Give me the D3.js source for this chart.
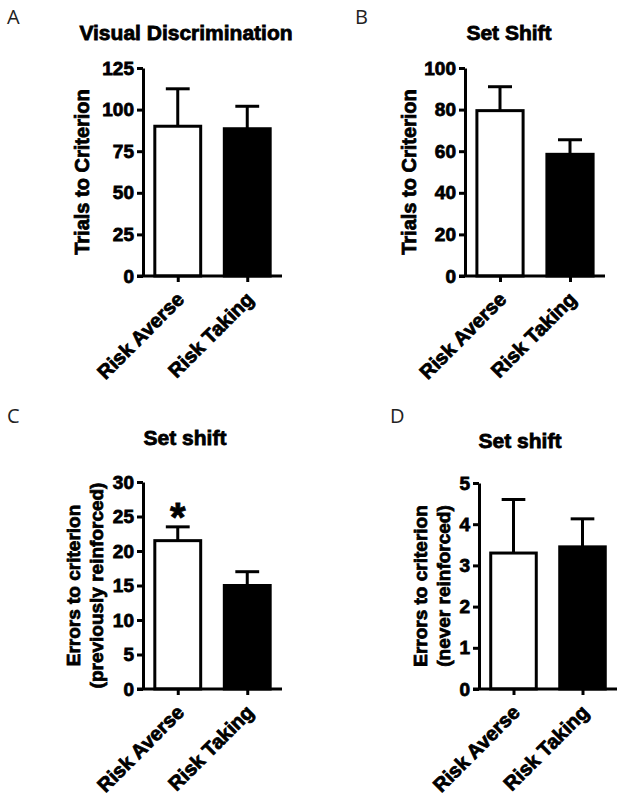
<!DOCTYPE html>
<html><head><meta charset="utf-8">
<script src="https://cdn.jsdelivr.net/npm/d3@7"></script>
<style>
body{margin:0;background:#fff;}
svg{display:block;}
.t{font-family:"Liberation Sans",Arial,sans-serif;font-weight:bold;fill:#000;stroke:#000;stroke-width:0.8px;}
.lt{font-family:"Open Sans","Liberation Sans",Arial,sans-serif;font-weight:normal;fill:#222;}
</style></head>
<body>
<script>
// ---- data ----
const categories = ["Risk Averse", "Risk Taking"];
const barFill = ["#fff", "#000"];

const panelLetters = ["A", "B", "C", "D"];
const titles = ["Visual Discrimination", "Set Shift", "Set shift", "Set shift"];
const yLabels = [
  ["Trials to Criterion"],
  ["Trials to Criterion"],
  ["Errors to criterion", "(previously reinforced)"],
  ["Errors to criterion", "(never reinforced)"]
];
const meansA = [90, 88.5];
const semA = [22.5, 13.5];
const meansB = [79.5, 58.5];
const semB = [11.5, 7];
const meansC = [21.5, 15];
const semC = [2, 2];
const meansD = [3.3, 3.45];
const semD = [1.3, 0.68];
const ticksA = [0, 25, 50, 75, 100, 125];
const ticksB = [0, 20, 40, 60, 80, 100];
const ticksC = [0, 5, 10, 15, 20, 25, 30];
const ticksD = [0, 1, 2, 3, 4, 5];
const significance = [[], [], ["*", ""], []];

// ---- layout ----
const W = 624, H = 801;
const svg = d3.select("body").append("svg").attr("width", W).attr("height", H);

const layouts = [
  {x0:143, x1:282, yTop:68, yBot:276, letter:[7,24], title:[186,40], ylab:[82], means:meansA, sem:semA, ticks:ticksA},
  {x0:465, x1:605, yTop:68, yBot:276, letter:[355,24], title:[509,40], ylab:[409], means:meansB, sem:semB, ticks:ticksB},
  {x0:143, x1:282, yTop:482, yBot:689, letter:[7,423], title:[185,445], ylab:[73,96], means:meansC, sem:semC, ticks:ticksC},
  {x0:479, x1:617, yTop:483, yBot:689, letter:[390,423], title:[520,448], ylab:[420,443], means:meansD, sem:semD, ticks:ticksD}
];

layouts.forEach((L, i) => {
  const g = svg.append("g");
  const y = d3.scaleLinear().domain([0, d3.max(L.ticks)]).range([L.yBot, L.yTop]);
  const x = d3.scalePoint().domain(categories).range([L.x0, L.x1]).padding(0.5);
  const bw = x.step() * 0.66;
  const capW = bw * 0.52;

  g.append("text").attr("class", "lt").attr("x", L.letter[0]).attr("y", L.letter[1])
    .style("font-size", "20px").text(panelLetters[i]);
  g.append("text").attr("class", "t").attr("x", L.title[0]).attr("y", L.title[1])
    .attr("text-anchor", "middle").style("font-size", "21px").text(titles[i]);

  categories.forEach((c, k) => {
    const cx = x(c);
    g.append("line").attr("x1", cx).attr("x2", cx)
      .attr("y1", y(L.means[k])).attr("y2", y(L.means[k] + L.sem[k]))
      .attr("stroke", "#000").attr("stroke-width", 3);
    g.append("line").attr("x1", cx - capW/2).attr("x2", cx + capW/2)
      .attr("y1", y(L.means[k] + L.sem[k])).attr("y2", y(L.means[k] + L.sem[k]))
      .attr("stroke", "#000").attr("stroke-width", 3);
    g.append("rect").attr("x", cx - bw/2).attr("width", bw)
      .attr("y", y(L.means[k])).attr("height", y(0) - y(L.means[k]))
      .attr("fill", barFill[k]).attr("stroke", "#000").attr("stroke-width", 3);
    const s = significance[i][k];
    if (s) {
      g.append("text").attr("class", "t").attr("x", cx).attr("y", y(L.means[k] + L.sem[k]) + 4)
        .attr("text-anchor", "middle").style("font-size", "40px").text(s);
    }
  });

  const ya = g.append("g").attr("transform", `translate(${L.x0},0)`)
    .call(d3.axisLeft(y).tickValues(L.ticks).tickFormat(d3.format("d"))
      .tickSize(6).tickSizeOuter(0).tickPadding(3));
  ya.select(".domain").attr("stroke-width", 3);
  ya.selectAll(".tick line").attr("stroke-width", 3);
  ya.selectAll(".tick text").attr("class", "t").style("font-size", "19px").attr("font-family", null);

  const xa = g.append("g").attr("transform", `translate(0,${L.yBot})`)
    .call(d3.axisBottom(x).tickSize(6).tickSizeOuter(0).tickFormat(""));
  xa.select(".domain").attr("stroke-width", 3).attr("d", `M${L.x0 - 6},0H${L.x1}`);
  xa.selectAll(".tick line").attr("stroke-width", 3);
  categories.forEach(c => {
    g.append("text").attr("class", "t")
      .attr("transform", `translate(${x(c) - 3},${L.yBot + 14}) rotate(-45)`)
      .attr("text-anchor", "end").attr("dy", "0.75em")
      .style("font-size", "20px").text(c);
  });

  const yc = (L.yTop + L.yBot) / 2;
  yLabels[i].forEach((t, j) => {
    g.append("text").attr("class", "t")
      .attr("transform", `translate(${L.ylab[j]},${yc}) rotate(-90)`)
      .attr("text-anchor", "middle").attr("dy", "0.36em")
      .style("font-size", yLabels[i].length > 1 ? "19px" : "20px").text(t);
  });
});
</script>
</body></html>
